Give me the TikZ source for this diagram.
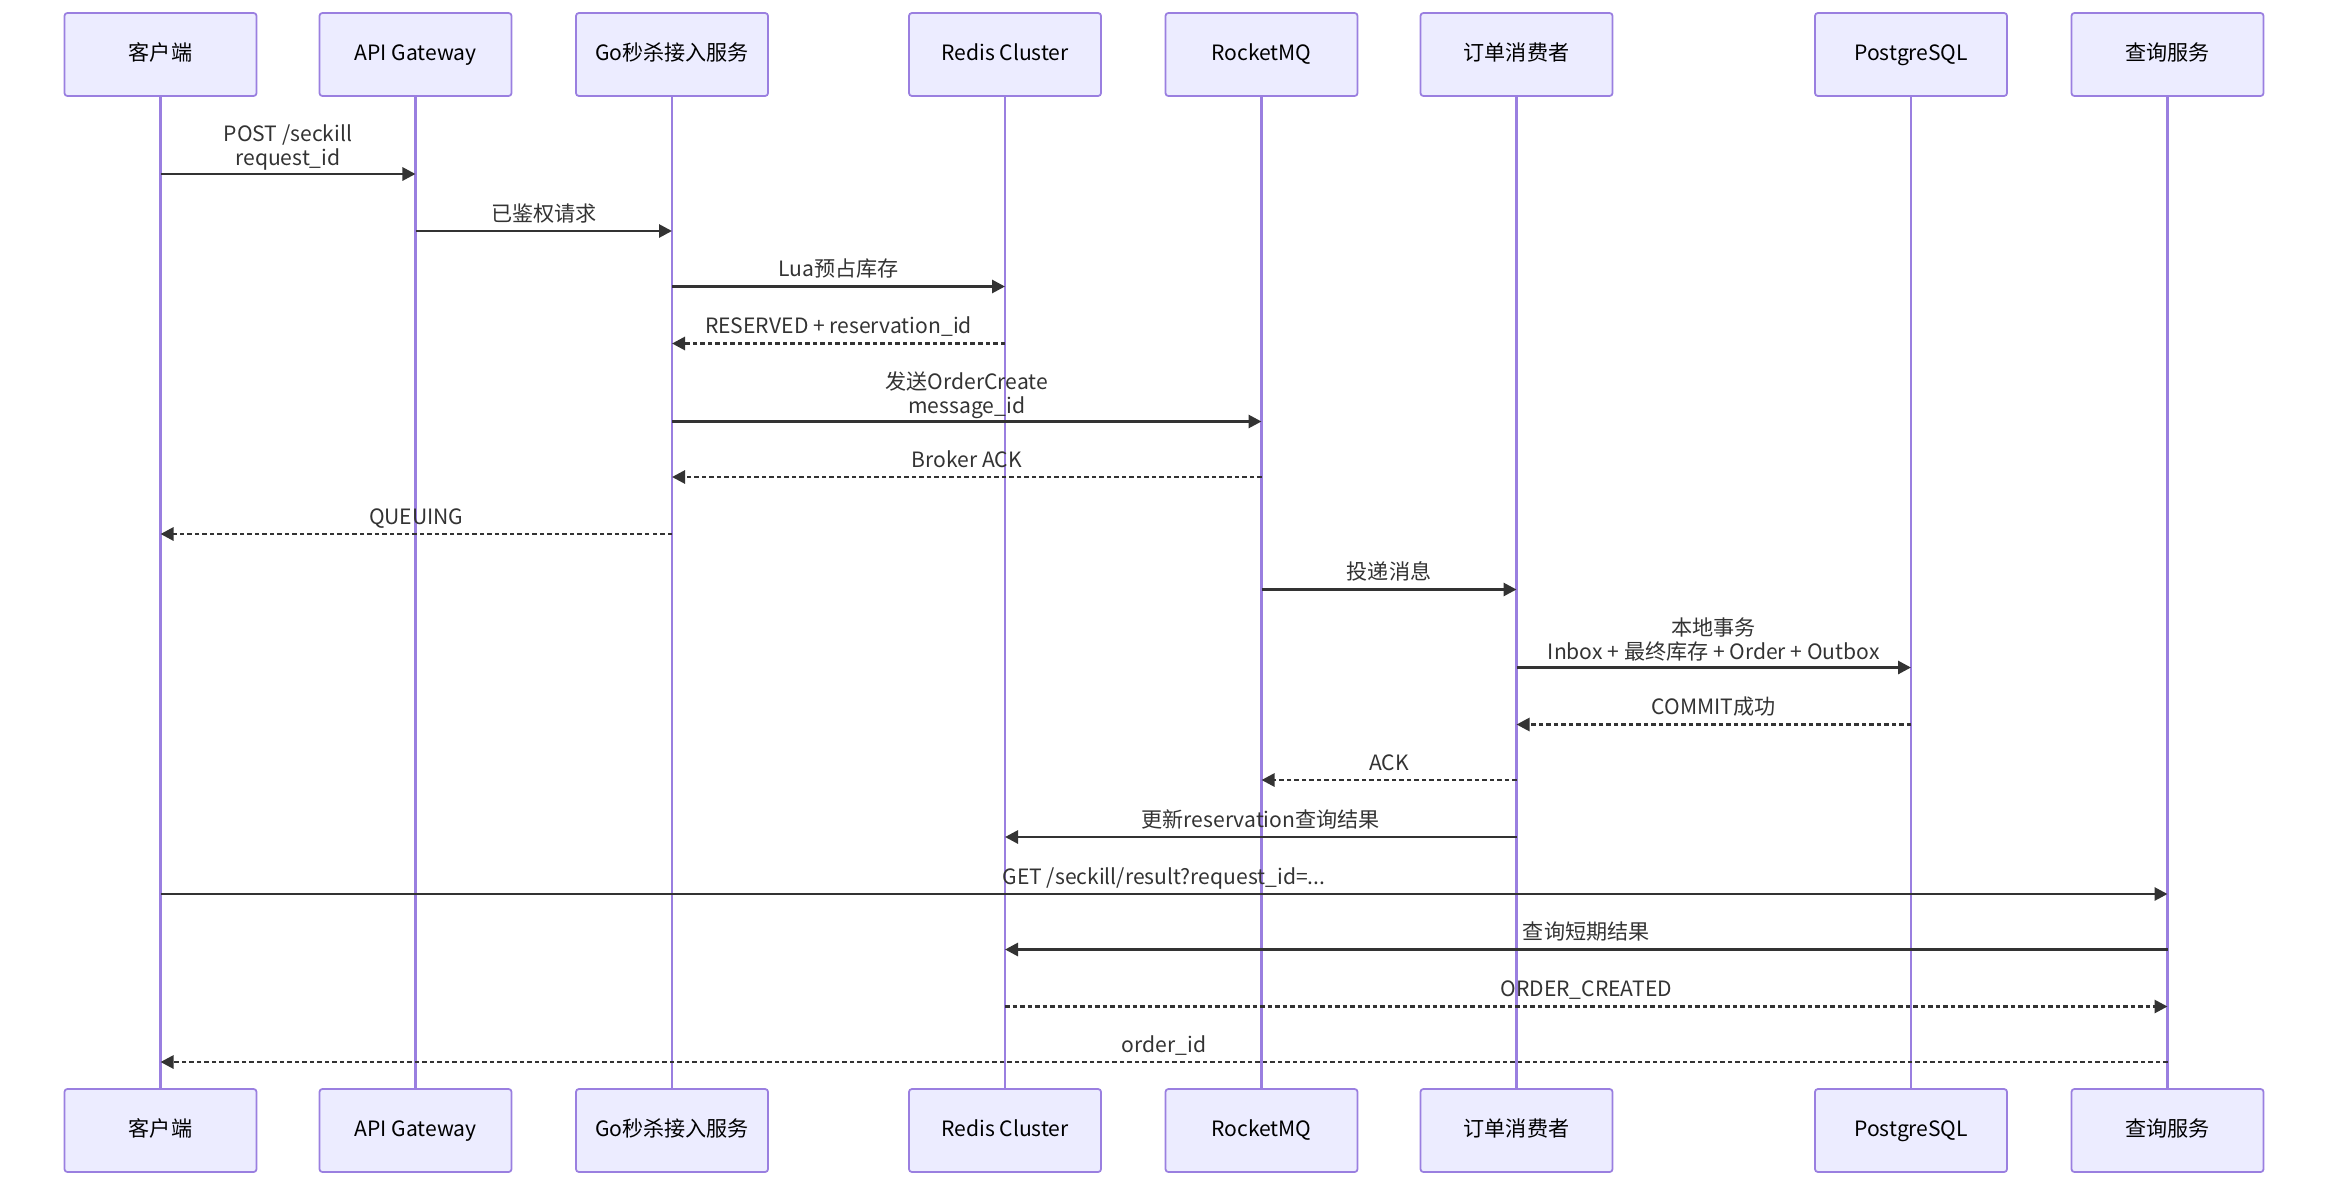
\documentclass[tikz,border=0pt]{standalone}
\usepackage{fontspec}
\setmainfont{Noto Sans CJK SC}
\usetikzlibrary{arrows.meta}
\definecolor{actorfill}{HTML}{ECECFF}
\definecolor{actorline}{HTML}{9A7FE0}
\definecolor{msgcol}{HTML}{333333}
\tikzset{
  actor/.style={draw=actorline,fill=actorfill,line width=0.5pt,rounded corners=0.03cm,minimum width=1.92cm,minimum height=0.83cm,inner sep=0pt,text height=0.16cm,text depth=0.05cm},
  lifeline/.style={draw=actorline,line width=0.7pt},
  msg/.style={draw=msgcol,line width=0.8pt,-{Triangle[length=0.13cm,width=0.13cm]}},
  reply/.style={msg,dash pattern=on 0.045cm off 0.03cm},
  lbl/.style={midway,above=0.085cm,inner sep=0pt,text depth=0pt,align=center,text=msgcol},
  lbltwo/.style={lbl,yshift=-0.015cm}
}
\begin{document}
\begin{tikzpicture}[x=0.01cm,y=-0.01cm,font=\fontsize{6pt}{6.83pt}\selectfont]
\useasboundingbox (0,0) rectangle (2352,1200);
% participants, top row
\node[actor] (cl) at (160.5,54.5) {客户端};
\node[actor] (gw) at (415.5,54.5) {API Gateway};
\node[actor] (go) at (672,54.5) {Go秒杀接入服务};
\node[actor] (rd) at (1005,54.5) {Redis Cluster};
\node[actor] (mq) at (1261.5,54.5) {RocketMQ};
\node[actor] (oc) at (1516.5,54.5) {订单消费者};
\node[actor] (pg) at (1911,54.5) {PostgreSQL};
\node[actor] (qs) at (2167.5,54.5) {查询服务};
% participants, bottom row
\node[actor] (clb) at (160.5,1130.5) {客户端};
\node[actor] (gwb) at (415.5,1130.5) {API Gateway};
\node[actor] (gob) at (672,1130.5) {Go秒杀接入服务};
\node[actor] (rdb) at (1005,1130.5) {Redis Cluster};
\node[actor] (mqb) at (1261.5,1130.5) {RocketMQ};
\node[actor] (ocb) at (1516.5,1130.5) {订单消费者};
\node[actor] (pgb) at (1911,1130.5) {PostgreSQL};
\node[actor] (qsb) at (2167.5,1130.5) {查询服务};
% lifelines
\draw[lifeline] (cl.south) -- (clb.north);
\draw[lifeline] (gw.south) -- (gwb.north);
\draw[lifeline] (go.south) -- (gob.north);
\draw[lifeline] (rd.south) -- (rdb.north);
\draw[lifeline] (mq.south) -- (mqb.north);
\draw[lifeline] (oc.south) -- (ocb.north);
\draw[lifeline] (pg.south) -- (pgb.north);
\draw[lifeline] (qs.south) -- (qsb.north);
% messages
\draw[msg] (cl |- 0,174) -- node[lbltwo]{POST /seckill\\request\_id} (gw |- 0,174);
\draw[msg] (gw |- 0,231) -- node[lbl]{已鉴权请求} (go |- 0,231);
\draw[msg] (go |- 0,286.5) -- node[lbl]{Lua预占库存} (rd |- 0,286.5);
\draw[reply] (rd |- 0,343.5) -- node[lbl]{RESERVED + reservation\_id} (go |- 0,343.5);
\draw[msg] (go |- 0,421.5) -- node[lbltwo]{发送OrderCreate\\message\_id} (mq |- 0,421.5);
\draw[reply] (mq |- 0,477) -- node[lbl]{Broker ACK} (go |- 0,477);
\draw[reply] (go |- 0,534) -- node[lbl]{QUEUING} (cl |- 0,534);
\draw[msg] (mq |- 0,589.5) -- node[lbl]{投递消息} (oc |- 0,589.5);
\draw[msg] (oc |- 0,667.5) -- node[lbltwo]{本地事务\\Inbox + 最终库存 + Order + Outbox} (pg |- 0,667.5);
\draw[reply] (pg |- 0,724.5) -- node[lbl]{COMMIT成功} (oc |- 0,724.5);
\draw[reply] (oc |- 0,780) -- node[lbl]{ACK} (mq |- 0,780);
\draw[msg] (oc |- 0,837) -- node[lbl]{更新reservation查询结果} (rd |- 0,837);
\draw[msg] (cl |- 0,894) -- node[lbl]{GET /seckill/result?request\_id=...} (qs |- 0,894);
\draw[msg] (qs |- 0,949.5) -- node[lbl]{查询短期结果} (rd |- 0,949.5);
\draw[reply] (rd |- 0,1006.5) -- node[lbl]{ORDER\_CREATED} (qs |- 0,1006.5);
\draw[reply] (qs |- 0,1062) -- node[lbl]{order\_id} (cl |- 0,1062);
\end{tikzpicture}
\end{document}
